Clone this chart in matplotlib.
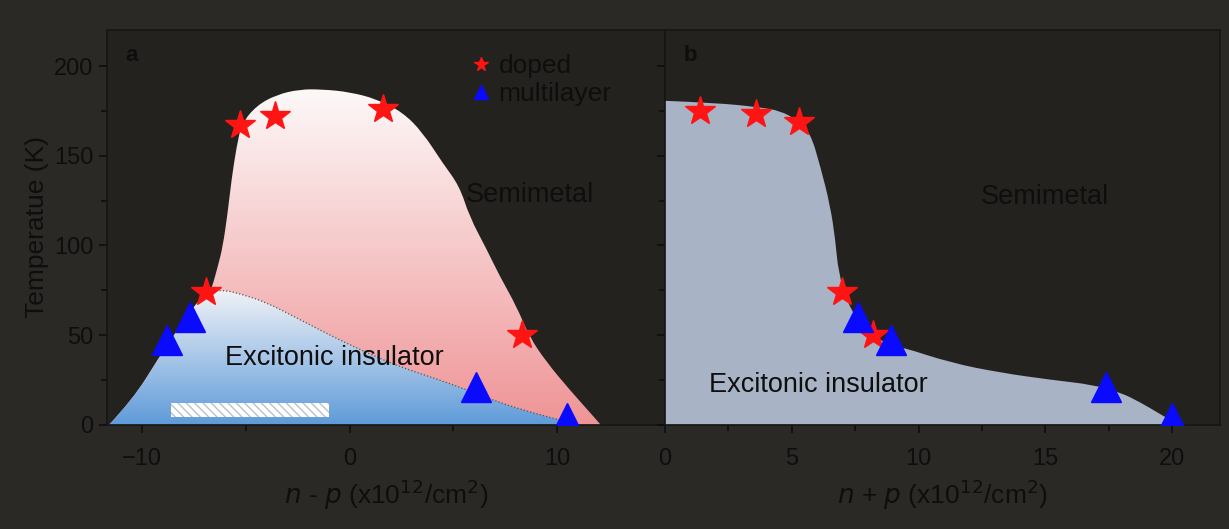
import numpy as np
import matplotlib
matplotlib.use('Agg')
import matplotlib.pyplot as plt
from matplotlib.patches import PathPatch, Rectangle
from matplotlib.path import Path
from matplotlib.colors import LinearSegmentedColormap

plt.rcParams['font.family'] = ['Liberation Sans', 'DejaVu Sans']

# panel a data: n - p
a_doped_x = [-5.3, -3.6, 1.6, -6.9, 8.3]
a_doped_y = [167, 172, 176, 74, 50]
a_multi_x = [-8.8, -7.7, 6.1, 10.5]
a_multi_y = [47, 60, 21, 4]

# left edge shared by both regions in panel a
a_left_x = [-11.6, -10.46, -9.16, -8.53, -7.86, -7.23, -6.75]
a_left_y = [0, 14, 38, 49, 60, 70, 74.3]
# outer (pink) boundary from the top of the left edge down to the axis
a_outer_x = [-6.65, -6.36, -6.12, -5.88, -5.69, -5.45, -5.2, -4.48, -3.52, -2.41, -1.3, 0.0, 1.3, 2.55,
             3.52, 4.48, 5.3, 5.78, 6.6, 7.23, 8.05, 8.67, 9.49, 10.6, 11.9, 12.1]
a_outer_y = [76, 88, 99, 118, 137, 155, 168, 178, 184, 187, 187, 185.5, 181.6, 174.3,
             163, 146, 133, 116, 98, 83, 66, 49, 35, 19.6, 2.8, 0]
# excitonic insulator (blue) upper boundary in panel a
a_inner_x = [-6.75, -6.12, -5.16, -4.0, -2.41, -0.82, 0.82, 2.41, 4.0, 5.64, 7.23, 8.82, 10.46, 11.08]
a_inner_y = [74.3, 75.4, 72.6, 68.2, 58.7, 49.2, 40.2, 32.4, 26.3, 19.6, 12.3, 6.7, 1.7, 0]

# panel b data: n + p
b_doped_x = [1.4, 3.6, 5.3, 7.0, 8.2]
b_doped_y = [175, 173, 169, 74, 50]
b_multi_x = [7.6, 8.9, 17.4, 20.0]
b_multi_y = [60, 47, 21, 4]

b_edge_x = [0, 2.0, 3.75, 4.55, 5.2, 5.73, 6.13, 6.52, 6.72, 6.84, 7.19, 7.83, 8.89, 9.29,
            11.26, 13.24, 15.2, 16.9, 17.98, 18.77, 19.57, 20.24]
b_edge_y = [180.6, 179.5, 177, 175, 170, 163, 144, 122, 103, 85, 68, 53, 44, 43.6,
            34.6, 29, 25.1, 22.3, 17.9, 12.3, 5.6, 0]

ink = '#0e0e0e'


def smooth_path(xs, ys, close_to=None):
    # quadratic bezier through the read points, used as control points
    pts = list(zip(xs, ys))
    verts = [pts[0]]
    codes = [Path.MOVETO]
    for i in range(1, len(pts) - 1):
        mid = ((pts[i][0] + pts[i + 1][0]) / 2, (pts[i][1] + pts[i + 1][1]) / 2)
        verts += [pts[i], mid]
        codes += [Path.CURVE3, Path.CURVE3]
    verts.append(pts[-1])
    codes.append(Path.LINETO)
    if close_to is not None:
        verts += [close_to, pts[0]]
        codes += [Path.LINETO, Path.CLOSEPOLY]
    return Path(verts, codes)


fig = plt.figure(figsize=(12.29, 5.29), dpi=100)
fig.patch.set_facecolor('#2a2926')

ax1 = fig.add_axes([0.087, 0.197, 0.454, 0.746])
ax2 = fig.add_axes([0.541, 0.197, 0.452, 0.746])

for ax in (ax1, ax2):
    ax.set_facecolor('#23221f')
    for s in ax.spines.values():
        s.set_color('#151515')
        s.set_linewidth(1.2)
    ax.tick_params(direction='out', colors=ink, labelsize=17, length=6, width=1.2)
    ax.tick_params(which='minor', direction='out', colors=ink, length=4, width=1.2)
    ax.tick_params(axis='x', which='major', pad=11)
    ax.set_ylim(0, 220)

ax1.set_xlim(-11.7, 15.2)
ax2.set_xlim(0, 21.9)


def gradient_fill(ax, xs, ys, top_col, bot_col, ytop):
    patch = PathPatch(smooth_path(xs, ys, close_to=(xs[0], 0)), facecolor='none', edgecolor='none')
    ax.add_patch(patch)
    cmap = LinearSegmentedColormap.from_list('g', [bot_col, top_col])
    grad = np.linspace(0, 1, 256).reshape(-1, 1)
    im = ax.imshow(grad, cmap=cmap, aspect='auto', origin='lower',
                   extent=[min(xs), max(xs), 0, ytop], zorder=1)
    im.set_clip_path(patch)


gradient_fill(ax1, a_left_x + a_outer_x, a_left_y + a_outer_y, '#fdf9f9', '#ef9496', 188)
gradient_fill(ax1, a_left_x + a_inner_x[1:], a_left_y + a_inner_y[1:], '#f2f3f7', '#5f9bd9', 76)
ax1.add_patch(PathPatch(smooth_path(a_inner_x, a_inner_y), fill=False, ls=':',
                        edgecolor='#555', lw=0.9, zorder=2))

hatch = Rectangle((-8.6, 4.5), 7.6, 7.8, facecolor='white', edgecolor='#b8c2cc',
                  hatch='\\\\\\\\', lw=0, zorder=3)
ax1.add_patch(hatch)

ax1.plot(a_doped_x, a_doped_y, '*', color='#ff1414', ms=22, mec='#ff1414', zorder=5, label='doped')
ax1.plot(a_multi_x, a_multi_y, '^', color='#0a0aff', ms=21, zorder=5, label='multilayer')

ax1.text(-0.72, 37.4, 'Excitonic insulator', fontsize=19.5, color=ink, ha='center', va='center', zorder=6)
ax1.text(8.7, 128, 'Semimetal', fontsize=19.5, color=ink, ha='center', va='center', zorder=6)
ax1.text(-10.5, 206, 'a', fontsize=16, fontweight='bold', color=ink, ha='center', va='center')

leg = ax1.legend(loc='upper left', bbox_to_anchor=(0.605, 1.0), frameon=False, markerscale=0.45,
                 handletextpad=0.15, labelspacing=0.15, handlelength=1.0, fontsize=19)
for t in leg.get_texts():
    t.set_color(ink)

ax1.set_xticks([-10, 0, 10])
ax1.set_xticks([-5, 5], minor=True)
ax1.set_yticks([0, 50, 100, 150, 200])
ax1.set_yticks([25, 75, 125, 175], minor=True)
ax1.set_xlabel(r'$n$ - $p$ (x10$^{12}$/cm$^{2}$)', fontsize=19, color=ink, labelpad=5)
ax1.set_ylabel('Temperatue (K)', fontsize=19, color=ink, labelpad=4)

# panel b
ax2.add_patch(PathPatch(smooth_path(b_edge_x, b_edge_y, close_to=(0, 0)),
                        facecolor='#a8b3c5', lw=0, zorder=1))
ax2.plot(b_doped_x, b_doped_y, '*', color='#ff1414', ms=22, zorder=5)
ax2.plot(b_multi_x, b_multi_y, '^', color='#0a0aff', ms=21, zorder=5)
ax2.text(6.05, 22, 'Excitonic insulator', fontsize=19.5, color=ink, ha='center', va='center', zorder=6)
ax2.text(15.0, 127, 'Semimetal', fontsize=19.5, color=ink, ha='center', va='center', zorder=6)
ax2.text(1.0, 206, 'b', fontsize=16, fontweight='bold', color=ink, ha='center', va='center')

ax2.set_xticks([0, 5, 10, 15, 20])
ax2.set_xticks([2.5, 7.5, 12.5, 17.5], minor=True)
ax2.set_yticks([0, 50, 100, 150, 200])
ax2.set_yticks([25, 75, 125, 175], minor=True)
ax2.tick_params(axis='y', which='both', labelleft=False)
ax2.set_xlabel(r'$n$ + $p$ (x10$^{12}$/cm$^{2}$)', fontsize=19, color=ink, labelpad=5)

fig.savefig('out.png', dpi=100, facecolor=fig.get_facecolor())
